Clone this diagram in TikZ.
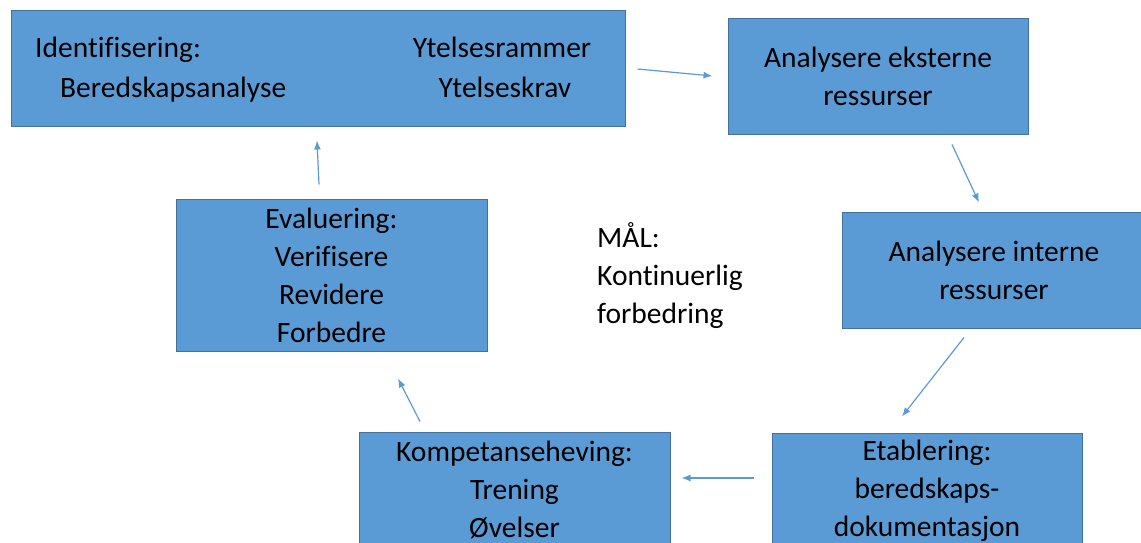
\documentclass[tikz,border=0pt]{standalone}
\usepackage{fontspec}
\setmainfont{Carlito}[Ligatures=NoCommon]
\usepackage{xcolor}
\usepackage{tikz}
\usetikzlibrary{positioning}
\usetikzlibrary{arrows.meta}
\definecolor{boxfill}{HTML}{5B9BD5}
\definecolor{boxline}{HTML}{41719C}
\definecolor{arrowblue}{HTML}{5B9BD5}
\tikzset{
  stepbox/.style={draw=boxline, line width=1pt, fill=boxfill, inner sep=0pt,
    align=center, font=\fontsize{29.5}{38}\selectfont},
  lbl/.style={inner sep=0pt, font=\fontsize{29.5}{38}\selectfont},
  arr/.style={draw=arrowblue, line width=1.2pt, -{Latex[length=9pt,width=7pt]}}
}

\begin{document}
\begin{tikzpicture}[x=1pt,y=-1pt]
            \useasboundingbox (0,0) rectangle (1141,543);
            \clip (0,0) rectangle (1141,543);
            % Boxes in the cycle
            \node[stepbox, minimum width=614pt, minimum height=115pt] (ident) at (318,68.5) {};
            \node[stepbox, minimum width=300pt, minimum height=115pt] (ekst) at (878,76.5) {Analysere eksterne\\ressurser};
            \node[stepbox, minimum width=304pt, minimum height=116pt] (intern) at (994,270) {Analysere interne\\ressurser};
            \node[stepbox, minimum width=310pt, minimum height=116pt] (etab) at (927,491) {Etablering:\\beredskaps-\\dokumentasjon};
            \node[stepbox, minimum width=311pt, minimum height=116pt] (komp) at (514.5,490) {Kompetanseheving:\\Trening\\Øvelser};
            \node[stepbox, minimum width=311pt, minimum height=152pt] (eval) at (331.5,275) {Evaluering:\\Verifisere\\Revidere\\Forbedre};
            % Text in the first box
            \node[lbl, anchor=base west] (idtxt) at (35,58) {Identifisering:};
            \node[lbl, anchor=base west] (bertxt) at (60,97) {Beredskapsanalyse};
            \node[lbl, anchor=base] (rammetxt) at (502,58) {Ytelsesrammer};
            \node[lbl, anchor=base] (kravtxt) at (505,97) {Ytelseskrav};
            % Goal in the middle
            \node[lbl, align=left, anchor=north west] (maal) at (597,222) {MÅL:\\Kontinuerlig\\forbedring};
            % Arrows
            \draw[arr] ([shift={(12,0.5)}]ident.east) -- ([shift={(-15,-0.5)}]ekst.west);
            \draw[arr] ([shift={(74,10)}]ekst.south) -- ([shift={(-15,-9)}]intern.north);
            \draw[arr] ([shift={(-30,9)}]intern.south) -- ([shift={(-25,-16)}]etab.north);
            \draw[arr] ([shift={(-18,-13)}]etab.west) -- ([shift={(11,-12)}]komp.east);
            \draw[arr] ([shift={(-94.5,-10)}]komp.north) -- ([shift={(66.5,27)}]eval.south);
            \draw[arr] ([shift={(-12.5,-14)}]eval.north) -- ([shift={(-1,14)}]ident.south);
        \end{tikzpicture}
\end{document}
